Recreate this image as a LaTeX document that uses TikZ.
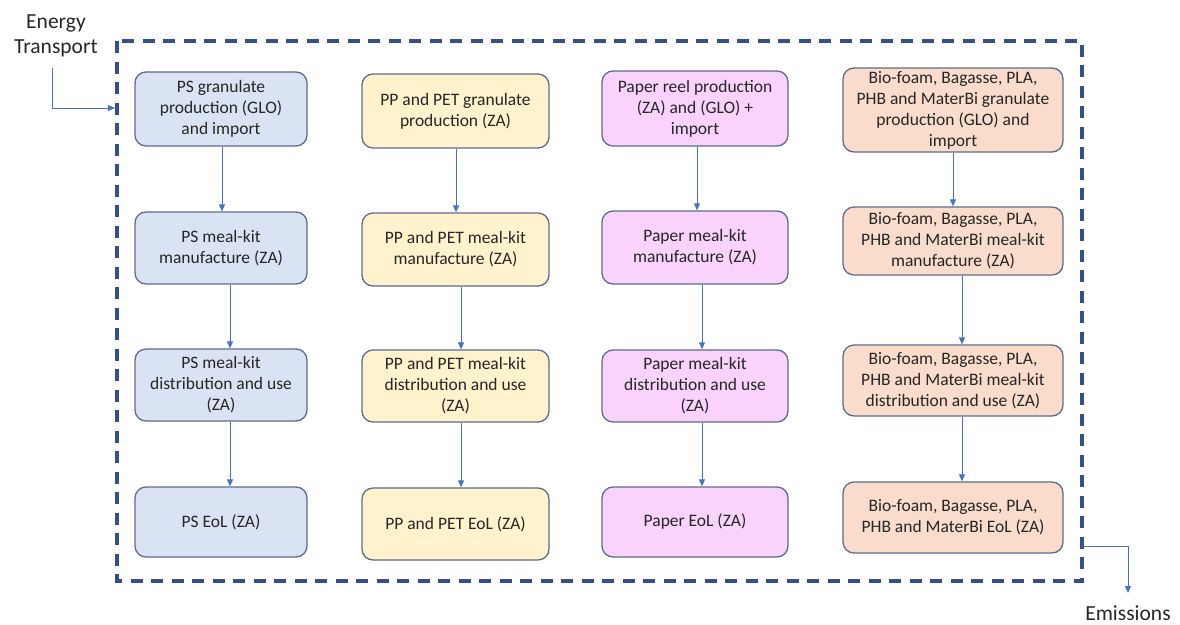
\documentclass[tikz,border=0pt]{standalone}
\usepackage{fontspec}
\setmainfont{Carlito}
\usetikzlibrary{arrows.meta}
\definecolor{bluefill}{HTML}{DAE3F3}
\definecolor{yelfill}{HTML}{FFF2CC}
\definecolor{pinkfill}{HTML}{F9D3FB}
\definecolor{peachfill}{HTML}{F9DCCB}
\definecolor{boxline}{HTML}{5E6C8C}
\definecolor{arrcol}{HTML}{4472C4}
\definecolor{dashcol}{HTML}{34508A}
\definecolor{txt}{HTML}{262626}
\tikzset{
  stagebox/.style={draw=boxline, line width=1.3pt, rounded corners=11pt, inner sep=0pt,
    align=center, text=txt, font=\fontsize{17.5}{21}\selectfont},
  flowarrow/.style={draw=arrcol, line width=0.8pt, -{Triangle[length=7pt,width=6pt]}},
  sidelabel/.style={text=txt, font=\fontsize{21.5}{25}\selectfont, align=center, inner sep=0pt},
}
\begin{document}
\begin{tikzpicture}[x=1pt,y=-1pt]
\useasboundingbox (0,0) rectangle (1180,624);
% boundary
\draw[dashcol, line width=3.3pt, dash pattern=on 12pt off 8.5pt] (117,41) rectangle (1082,581);
\coordinate (bleft) at (115,108);
\coordinate (bright) at (1082,546);
% column 1
\node[stagebox, fill=bluefill, minimum width=172pt, minimum height=74pt] (a1) at (221,109) {PS granulate\\production (GLO)\\and import};
\node[stagebox, fill=bluefill, minimum width=172pt, minimum height=72pt] (a2) at (221,248) {PS meal-kit\\manufacture (ZA)};
\node[stagebox, fill=bluefill, minimum width=172pt, minimum height=72pt] (a3) at (221,385) {PS meal-kit\\distribution and use\\(ZA)};
\node[stagebox, fill=bluefill, minimum width=172pt, minimum height=70pt] (a4) at (221,522) {PS EoL (ZA)};
% column 2
\node[stagebox, fill=yelfill, minimum width=187pt, minimum height=74pt] (b1) at (455.5,111) {PP and PET granulate\\production (ZA)};
\node[stagebox, fill=yelfill, minimum width=187pt, minimum height=73pt] (b2) at (455.5,249.5) {PP and PET meal-kit\\manufacture (ZA)};
\node[stagebox, fill=yelfill, minimum width=187pt, minimum height=72pt] (b3) at (455.5,386) {PP and PET meal-kit\\distribution and use\\(ZA)};
\node[stagebox, fill=yelfill, minimum width=187pt, minimum height=72pt] (b4) at (455.5,524) {PP and PET EoL (ZA)};
% column 3
\node[stagebox, fill=pinkfill, minimum width=186pt, minimum height=75pt] (c1) at (695,108.5) {Paper reel production\\(ZA) and (GLO) +\\import};
\node[stagebox, fill=pinkfill, minimum width=186pt, minimum height=73pt] (c2) at (695,247.5) {Paper meal-kit\\manufacture (ZA)};
\node[stagebox, fill=pinkfill, minimum width=186pt, minimum height=72pt] (c3) at (695,386) {Paper meal-kit\\distribution and use\\(ZA)};
\node[stagebox, fill=pinkfill, minimum width=186pt, minimum height=70pt] (c4) at (695,522) {Paper EoL (ZA)};
% column 4
\node[stagebox, fill=peachfill, minimum width=220pt, minimum height=84pt] (d1) at (953,110) {Bio-foam, Bagasse, PLA,\\PHB and MaterBi granulate\\production (GLO) and\\import};
\node[stagebox, fill=peachfill, minimum width=220pt, minimum height=68pt] (d2) at (953,241) {Bio-foam, Bagasse, PLA,\\PHB and MaterBi meal-kit\\manufacture (ZA)};
\node[stagebox, fill=peachfill, minimum width=220pt, minimum height=71pt] (d3) at (953,380.5) {Bio-foam, Bagasse, PLA,\\PHB and MaterBi meal-kit\\distribution and use (ZA)};
\node[stagebox, fill=peachfill, minimum width=220pt, minimum height=71pt] (d4) at (953,517.5) {Bio-foam, Bagasse, PLA,\\PHB and MaterBi EoL (ZA)};
% vertical arrows
\draw[flowarrow] ([xshift=1pt]a1.south) -- ([xshift=1pt]a2.north);
\draw[flowarrow] ([xshift=9pt]a2.south) -- ([xshift=9pt]a3.north);
\draw[flowarrow] ([xshift=9pt]a3.south) -- ([xshift=9pt]a4.north);
\draw[flowarrow] ([xshift=0.5pt]b1.south) -- ([xshift=0.5pt]b2.north);
\draw[flowarrow] ([xshift=5.5pt]b2.south) -- ([xshift=5.5pt]b3.north);
\draw[flowarrow] ([xshift=5.5pt]b3.south) -- ([xshift=5.5pt]b4.north);
\draw[flowarrow] ([xshift=2pt]c1.south) -- ([xshift=2pt]c2.north);
\draw[flowarrow] ([xshift=7pt]c2.south) -- ([xshift=7pt]c3.north);
\draw[flowarrow] ([xshift=7pt]c3.south) -- ([xshift=7pt]c4.north);
\draw[flowarrow] (d1.south) -- (d2.north);
\draw[flowarrow] ([xshift=9pt]d2.south) -- ([xshift=9pt]d3.north);
\draw[flowarrow] ([xshift=9pt]d3.south) -- ([xshift=9pt]d4.north);
% side labels
\node[sidelabel] (energy) at (56,36) {Energy\\Transport};
\node[sidelabel] (emis) at (1128,613) {Emissions};
\draw[flowarrow] (52.5,68) |- (bleft);
\draw[flowarrow] (bright) -| (1128,593);
\end{tikzpicture}
\end{document}
